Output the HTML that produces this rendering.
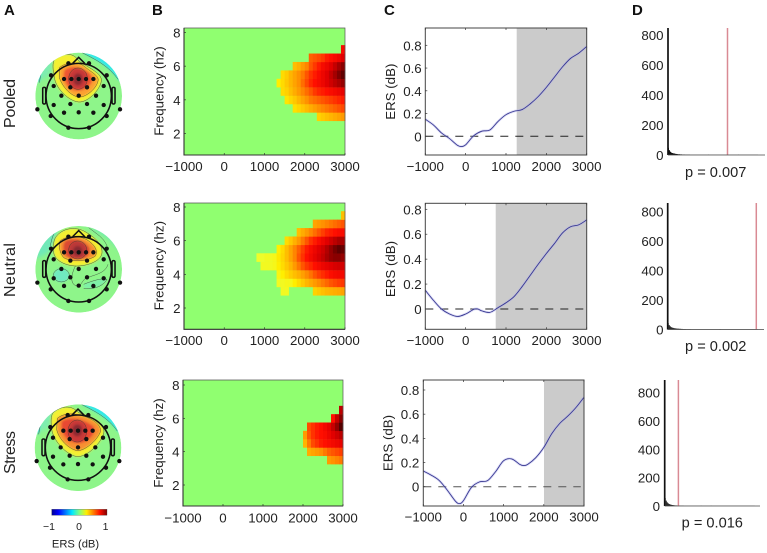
<!DOCTYPE html>
<html lang="en">
<head>
<meta charset="utf-8">
<title>ERS topography and time-frequency panels</title>
<style>
html,body{margin:0;padding:0;background:#fff;width:767px;height:553px;overflow:hidden}
svg{display:block}
text{font-family:"Liberation Sans",Arial,sans-serif;fill:#222}
</style>
</head>
<body>
<svg id="fig" xmlns="http://www.w3.org/2000/svg" width="767" height="553" viewBox="0 0 767 553">
<defs>
<filter id="soft" x="-20%" y="-20%" width="140%" height="140%"><feGaussianBlur stdDeviation="3"/></filter>
<filter id="softer" x="-30%" y="-30%" width="160%" height="160%"><feGaussianBlur stdDeviation="6"/></filter>
<linearGradient id="jet" x1="0" x2="1" y1="0" y2="0">
<stop offset="0" stop-color="#00008f"/><stop offset=".12" stop-color="#0000ff"/><stop offset=".37" stop-color="#00e8ff"/><stop offset=".5" stop-color="#80ff80"/><stop offset=".63" stop-color="#ffee00"/><stop offset=".87" stop-color="#ff1000"/><stop offset="1" stop-color="#800000"/>
</linearGradient>
<clipPath id="scalp-clip"><circle cx="0" cy="0" r="130"/></clipPath>
</defs>

<text x="4" y="15" font-size="15" font-weight="bold" style="fill:#111">A</text>
<text x="152" y="15" font-size="15" font-weight="bold" style="fill:#111">B</text>
<text x="384" y="15" font-size="15" font-weight="bold" style="fill:#111">C</text>
<text x="632" y="15" font-size="15" font-weight="bold" style="fill:#111">D</text>

<text transform="translate(15 103.5) rotate(-90)" text-anchor="middle" font-size="16" textLength="49">Pooled</text>
<text transform="translate(15 270) rotate(-90)" text-anchor="middle" font-size="16" textLength="54">Neutral</text>
<text transform="translate(15 452.5) rotate(-90)" text-anchor="middle" font-size="16" textLength="43">Stress</text>

<g transform="translate(78.7 96) scale(.3333)">
<g clip-path="url(#scalp-clip)">
<circle r="130" fill="#8ef58a"/>
<path d="M-130,-90 L-95,-130 L-60,-130 L-90,-60 L-130,-40Z" fill="#7eedb0" filter="url(#softer)"/>
<path d="M10,-130 L130,-130 L130,-40 L118,-50 C90,-90 50,-110 10,-130Z" fill="#30e8e8" filter="url(#soft)"/>
<path d="M-130,-60 L-112,-75 L-118,-40Z" fill="#40e0e0" filter="url(#soft)"/>
<g filter="url(#soft)">
<path d="M-71,-113 C-40,-130 -15,-130 0,-105 C30,-85 65,-70 68,-50 C70,-25 30,20 0,18 C-30,15 -65,-20 -72,-50 C-78,-80 -80,-100 -71,-113Z" fill="#f4f030"/>
<path d="M-58,-85 C-35,-105 5,-100 15,-90 C40,-70 62,-60 58,-45 C52,-20 20,5 0,3 C-25,0 -50,-30 -58,-55Z" fill="#fba030"/>
<path d="M-42,-78 C-20,-95 10,-85 30,-70 C45,-55 45,-40 25,-25 C5,-10 -20,-15 -32,-28 C-45,-45 -48,-65 -42,-78Z" fill="#ee5530"/>
<ellipse cx="-2" cy="-52" rx="28" ry="32" fill="#c83838"/>
<ellipse cx="-2" cy="-50" rx="14" ry="18" fill="#8c2a30"/>
</g>
<g fill="none" stroke="#333" stroke-width="1.2">
<path d="M-71,-113 C-40,-130 -15,-130 0,-105 C30,-85 65,-70 68,-50 C70,-25 30,20 0,18 C-30,15 -65,-20 -72,-50 C-78,-80 -80,-100 -71,-113Z"/>
<path d="M-58,-85 C-35,-105 5,-100 15,-90 C40,-70 62,-60 58,-45 C52,-20 20,5 0,3 C-25,0 -50,-30 -58,-55Z"/>
<ellipse cx="-2" cy="-52" rx="28" ry="32"/>
<path d="M10,-130 C50,-110 90,-90 118,-50"/>
<path d="M-130,-60 L-112,-75 L-118,-40"/>
</g>
</g>
<g class="head" fill="none" stroke="#111" stroke-width="4.6"><circle r="98" cx="0" cy="0"/><path d="M-18,-98 L0,-116 L18,-98"/><rect x="-108" y="-26" width="9" height="50" rx="4"/><rect x="100" y="-26" width="9" height="50" rx="4"/></g>
<g class="sites"></g>
</g>

<g transform="translate(78.7 269.3) scale(.3333)">
<g clip-path="url(#scalp-clip)">
<circle r="130" fill="#8ef58a"/>
<path d="M-130,-80 L-90,-130 L-60,-110 L-90,-50 L-130,-30Z" fill="#70e8b8" filter="url(#softer)"/>
<path d="M30,-130 L130,-130 L130,-50 L90,-90Z" fill="#70eab0" filter="url(#softer)"/>
<ellipse cx="-52" cy="18" rx="24" ry="20" fill="#70eac0" filter="url(#soft)"/>
<path d="M15,45 C40,35 70,25 85,30 C70,55 40,60 15,55Z" fill="#7ef0a8" filter="url(#soft)"/>
<g filter="url(#soft)">
<path d="M-70,-95 C-50,-125 -10,-128 15,-115 C45,-100 72,-75 70,-50 C68,-25 30,-12 0,-10 C-35,-8 -72,-25 -75,-50 C-78,-70 -75,-85 -70,-95Z" fill="#f4f030"/>
<path d="M-56,-85 C-30,-105 10,-100 30,-85 C50,-70 58,-55 50,-40 C30,-25 -20,-20 -45,-35 C-58,-50 -60,-70 -56,-85Z" fill="#f89030"/>
<path d="M-40,-85 C-20,-95 15,-90 32,-65 C38,-50 25,-32 0,-30 C-25,-28 -42,-40 -45,-55 C-48,-70 -45,-80 -40,-85Z" fill="#dc4830"/>
<ellipse cx="-3" cy="-58" rx="27" ry="27" fill="#bb3838"/>
<ellipse cx="-3" cy="-55" rx="14" ry="15" fill="#8a2a30"/>
</g>
<g fill="none" stroke="#333" stroke-width="1.2">
<path d="M-70,-95 C-50,-125 -10,-128 15,-115 C45,-100 72,-75 70,-50 C68,-25 30,-12 0,-10 C-35,-8 -72,-25 -75,-50 C-78,-70 -75,-85 -70,-95Z"/>
<path d="M-56,-85 C-30,-105 10,-100 30,-85 C50,-70 58,-55 50,-40 C30,-25 -20,-20 -45,-35 C-58,-50 -60,-70 -56,-85Z"/>
<ellipse cx="-3" cy="-58" rx="27" ry="27"/>
<ellipse cx="-52" cy="18" rx="24" ry="20"/>
<path d="M-10,-10 C-20,10 -30,45 -5,50 C10,50 10,30 25,25 C55,15 80,10 88,-15"/>
<path d="M15,58 C40,60 70,55 85,30 C70,25 40,35 15,45"/>
<path d="M-85,-70 C-82,-90 -75,-110 -62,-130"/>
<path d="M30,-125 C55,-105 75,-95 85,-70"/>
</g>
</g>
<g class="head" fill="none" stroke="#111" stroke-width="4.6"><circle r="98" cx="0" cy="0"/><path d="M-18,-98 L0,-116 L18,-98"/><rect x="-108" y="-26" width="9" height="50" rx="4"/><rect x="100" y="-26" width="9" height="50" rx="4"/></g>
<g class="sites"></g>
</g>

<g transform="translate(78 447.7) scale(.3333)">
<g clip-path="url(#scalp-clip)">
<circle r="130" fill="#8ef58a"/>
<path d="M-130,-90 L-95,-130 L-60,-130 L-90,-60 L-130,-40Z" fill="#7eedb0" filter="url(#softer)"/>
<path d="M10,-130 L130,-130 L130,-40 L118,-50 C90,-90 50,-110 10,-130Z" fill="#30e8e8" filter="url(#soft)"/>
<path d="M-130,-60 L-112,-75 L-118,-40Z" fill="#40e0e0" filter="url(#soft)"/>
<g filter="url(#soft)">
<path d="M-75,-105 C-45,-130 -15,-125 2,-105 C35,-95 75,-75 78,-50 C78,-25 35,25 0,27 C-30,25 -70,-15 -78,-50 C-82,-75 -82,-95 -75,-105Z" fill="#f4f030"/>
<path d="M-62,-88 C-35,-110 0,-100 25,-92 C55,-80 68,-65 68,-50 C60,-25 25,7 0,9 C-25,7 -58,-25 -64,-55Z" fill="#f89030"/>
<path d="M-48,-80 C-25,-95 20,-85 45,-65 C55,-52 45,-30 20,-18 C0,-8 -25,-15 -40,-35 C-50,-50 -52,-70 -48,-80Z" fill="#e84a30"/>
<ellipse cx="-2" cy="-50" rx="28" ry="33" fill="#c83838"/>
<ellipse cx="-2" cy="-52" rx="15" ry="18" fill="#8c2a30"/>
</g>
<g fill="none" stroke="#333" stroke-width="1.2">
<path d="M-75,-105 C-45,-130 -15,-125 2,-105 C35,-95 75,-75 78,-50 C78,-25 35,25 0,27 C-30,25 -70,-15 -78,-50 C-82,-75 -82,-95 -75,-105Z"/>
<path d="M-62,-88 C-35,-110 0,-100 25,-92 C55,-80 68,-65 68,-50 C60,-25 25,7 0,9 C-25,7 -58,-25 -64,-55Z"/>
<ellipse cx="-2" cy="-50" rx="28" ry="33"/>
<path d="M10,-130 C50,-110 90,-90 118,-50"/>
<path d="M-130,-60 L-112,-75 L-118,-40"/>
</g>
</g>
<g class="head" fill="none" stroke="#111" stroke-width="4.6"><circle r="98" cx="0" cy="0"/><path d="M-18,-98 L0,-116 L18,-98"/><rect x="-108" y="-26" width="9" height="50" rx="4"/><rect x="100" y="-26" width="9" height="50" rx="4"/></g>
<g class="sites"></g>
</g>

<g>
<rect x="51.7" y="509.3" width="55.3" height="6" fill="url(#jet)" stroke="#444" stroke-width=".3"/>
<text x="49" y="530" font-size="10.5" text-anchor="middle">−1</text>
<text x="79" y="530" font-size="10.5" text-anchor="middle">0</text>
<text x="105.5" y="530" font-size="10.5" text-anchor="middle">1</text>
<text x="75.5" y="547.5" font-size="11.2" text-anchor="middle">ERS (dB)</text>
</g>
</svg>

<script>
// ---------- Chart data ----------
var timeBins = [700,800,900,1000,1100,1200,1300,1400,1500,1600,1700,1800,1900,2000,2100,2200,2300,2400,2500,2600,2700,2800,2900];
var freqBins = [3,3.5,4,4.5,5,5.5,6,6.5,7,7.5];
var heatPooled = [
[0,0,0,0,0,0,0,0,0,0,0,0,0,0,0,0,26,28,30,32,34,36,38],
[0,0,0,0,0,0,0,0,0,0,23,25,28,31,34,37,40,42,44,46,48,50,52],
[0,0,0,0,0,0,0,0,22,25,28,32,36,40,44,46,48,50,52,54,56,58,60],
[0,0,0,0,0,0,0,24,26,30,34,38,42,46,50,55,58,60,62,64,66,68,70],
[0,0,0,0,0,0,20,24,28,32,36,40,46,52,58,62,65,68,72,76,80,84,88],
[0,0,0,0,0,0,0,24,27,32,36,40,44,50,56,60,64,68,72,78,85,92,98],
[0,0,0,0,0,0,0,0,0,0,30,33,38,42,50,55,60,65,68,72,78,85,90],
[0,0,0,0,0,0,0,0,0,0,0,0,0,0,48,50,52,55,60,62,65,68,72],
[0,0,0,0,0,0,0,0,0,0,0,0,0,0,0,0,0,0,0,0,0,0,65],
[0,0,0,0,0,0,0,0,0,0,0,0,0,0,0,0,0,0,0,0,0,0,0]
];
var heatNeutral = [
[0,0,0,0,0,0,0,16,16,0,0,0,0,0,0,26,28,30,32,33,34,35,36],
[0,0,0,0,0,0,16,16,17,17,20,24,28,32,35,38,41,44,47,50,52,54,55],
[0,0,0,0,0,0,18,20,24,27,30,33,37,41,45,50,54,57,60,63,65,66,66],
[0,0,16,16,16,17,20,24,28,32,38,44,50,55,58,62,65,68,70,72,74,75,75],
[0,15,15,16,16,17,21,25,30,36,42,50,56,62,66,70,74,78,84,88,90,90,88],
[0,0,0,0,0,0,20,24,30,36,42,48,54,60,64,68,72,76,82,88,94,98,96],
[0,0,0,0,0,0,0,0,24,28,33,38,44,50,56,60,64,68,72,76,80,84,84],
[0,0,0,0,0,0,0,0,0,0,0,30,34,38,42,46,50,54,58,60,62,64,64],
[0,0,0,0,0,0,0,0,0,0,0,0,0,0,0,36,38,40,42,44,46,48,50],
[0,0,0,0,0,0,0,0,0,0,0,0,0,0,0,0,0,0,0,0,0,0,30]
];
var heatStress = [
[0,0,0,0,0,0,0,0,0,0,0,0,0,0,0,0,0,0,0,0,0,0,0],
[0,0,0,0,0,0,0,0,0,0,0,0,0,0,0,0,0,0,0,38,40,42,44],
[0,0,0,0,0,0,0,0,0,0,0,0,0,0,34,36,38,40,44,48,50,52,54],
[0,0,0,0,0,0,0,0,0,0,0,0,0,32,44,52,56,60,62,64,66,68,70],
[0,0,0,0,0,0,0,0,0,0,0,0,0,38,50,56,60,62,64,68,72,76,80],
[0,0,0,0,0,0,0,0,0,0,0,0,0,0,52,56,60,62,66,70,78,88,100],
[0,0,0,0,0,0,0,0,0,0,0,0,0,0,0,0,0,0,0,0,62,78,90],
[0,0,0,0,0,0,0,0,0,0,0,0,0,0,0,0,0,0,0,0,0,0,80],
[0,0,0,0,0,0,0,0,0,0,0,0,0,0,0,0,0,0,0,0,0,0,0],
[0,0,0,0,0,0,0,0,0,0,0,0,0,0,0,0,0,0,0,0,0,0,0]
];
var timeTicks = [-1000,0,1000,2000,3000];
var freqTicks = [2,4,6,8];
var ersTicks = [0,0.2,0.4,0.6,0.8];
var countTicks = [0,200,400,600,800];

var ersPooledTimes = [-1000,-800,-600,-400,-200,-100,0,200,400,600,800,1000,1200,1400,1600,1800,2000,2200,2400,2600,2800,3000];
var ersPooled = [.15,.10,.03,-.02,-.08,-.09,-.075,.005,.045,.055,.13,.19,.22,.235,.285,.35,.43,.52,.61,.685,.73,.79];
var ersNeutralTimes = [-1000,-800,-600,-400,-200,0,200,300,400,600,800,1000,1200,1400,1600,1800,2000,2200,2400,2600,2800,3000];
var ersNeutral = [.15,.07,0,-.04,-.06,-.04,-.003,0,-.015,-.027,.01,.05,.10,.18,.27,.36,.445,.525,.61,.66,.675,.715];
var ersStressTimes = [-1000,-800,-600,-400,-200,-100,0,200,400,600,800,1000,1200,1400,1500,1600,1800,2000,2200,2400,2600,2800,3000];
var ersStress = [.13,.095,.05,-.03,-.12,-.14,-.115,-.005,.04,.05,.125,.215,.23,.185,.175,.185,.24,.325,.44,.525,.585,.655,.74];
var sigOnsetPooled = 1265;
var sigOnsetNeutral = 745;
var sigOnsetStress = 2004;

var histPooled = [48,32,22,16,13,11,10,8,7,6,5,5,4,4,3,3,3,2,2,2,2,2,1,1,1,1,1,1,1,1,1,1,1,1,1,1,1,1,1,1,2,1,1,1,1,1,1,1,1,1,1,1,1,1,1,1,1,1,1,1,1,1,1,1,1,1,1,1,1,1,2,1,1,1,1,1,1,1,1,1,1,1,1,1,1,1,1,1,1,1];
var histNeutral = [44,30,22,16,13,11,9,8,7,6,6,5,5,4,4,3,3,3,2,2,2,2,2,1,1,1,1,1,1,1,1,1,1,1,1,1,1,1,1,1,1,1,1,1,1,1,1,1,1,1,1,1,2,1,1,1,1,1,1,1,1,1,1,1,1,1,1,1,1,1,1,1,1,1,1,1,1,1,1,1,1,1,1,1,1,1,1,1,1,1];
var histStress = [56,38,26,19,14,11,9,7,6,5,4,4,3,3,3,2,2,2,2,1,1,1,1,1,1,1,1,1,1,1,1,1,1,1,1,1,2,1,1,1,1,1,1,1,1,1,2,1,1,1,1,1,1,1,1,1,1,1,1,1,1,1,1,1,1,1,1,1,1,1,1,1,1,1,1,1,1,1,1,1,1,1,1,1,1,1,1,1,1,1];
var observedPooled = 59.5;
var observedNeutral = 88.6;
var observedStress = 13.7;
var pLabels = ["p = 0.007","p = 0.002","p = 0.016"];

var electrodeSites = [[-31,-98],[31,-98],[-83,-62],[84,-62],[-44,-51],[-22,-51],[0,-51],[22,-51],[44,-51],[-25,-26],[25,-26],[-75,-30],[75,-30],[-52,-1],[0,-1],[52,-1],[-75,27],[-25,24],[25,24],[75,27],[-124,40],[124,40],[-44,50],[0,49],[44,50],[-84,60],[84,60],[-31,95],[31,95]];

// ---------- Helpers ----------
var NS = 'http://www.w3.org/2000/svg';
var fig = document.getElementById('fig');
function make(tag, attrs, parent, txt){
  var el = document.createElementNS(NS, tag);
  for (var k in attrs) el.setAttribute(k, attrs[k]);
  if (txt !== undefined) el.textContent = txt;
  (parent || fig).appendChild(el);
  return el;
}
function scale(d0, d1, r0, r1){ return function(v){ return r0 + (v - d0) * (r1 - r0) / (d1 - d0); }; }
var heatStops = [[0,[144,255,112]],[14,[236,255,50]],[20,[255,238,0]],[30,[255,190,0]],[40,[255,145,0]],[50,[255,85,0]],[62,[255,15,0]],[72,[225,0,0]],[85,[165,0,0]],[100,[85,0,0]]];
function heatColor(v){
  for (var i = 1; i < heatStops.length; i++){
    if (v <= heatStops[i][0]){
      var a = heatStops[i-1], b = heatStops[i], t = (v - a[0]) / (b[0] - a[0]);
      return 'rgb(' + [0,1,2].map(function(c){ return Math.round(a[1][c] + (b[1][c] - a[1][c]) * t); }).join(',') + ')';
    }
  }
  return 'rgb(85,0,0)';
}
function label(parent, x, y, s, anchor){
  return make('text', {x:x, y:y, 'font-size':13.3, 'text-anchor':anchor}, parent, s);
}
function smoothPath(xs, ys){
  var d = 'M' + xs[0].toFixed(2) + ',' + ys[0].toFixed(2);
  for (var i = 0; i < xs.length - 1; i++){
    var p = Math.max(i-1,0), n = Math.min(i+2,xs.length-1);
    d += 'C' + (xs[i]+(xs[i+1]-xs[p])/6).toFixed(2) + ',' + (ys[i]+(ys[i+1]-ys[p])/6).toFixed(2) + ' ' +
         (xs[i+1]-(xs[n]-xs[i])/6).toFixed(2) + ',' + (ys[i+1]-(ys[n]-ys[i])/6).toFixed(2) + ' ' +
         xs[i+1].toFixed(2) + ',' + ys[i+1].toFixed(2);
  }
  return d;
}

// ---------- Electrodes ----------
var siteGroups = document.querySelectorAll('.sites');
siteGroups.forEach(function(g){
  
  electrodeSites.forEach(function(s){
    var dot = make('circle', {cx:s[0], cy:s[1], r:6.5, fill:'#111'}, g);
    
    
  });
});
document.querySelectorAll('.head').forEach(function(h){
  
  
});

// ---------- Panel B ----------
function heatPanel(name, grid, L, R, T, B, y8, y2, tickBase, labelX, labelY){
  var g = make('g', {}, fig);
  
  
  var x = scale(-1000, 3000, L, R), y = scale(2, 8, y2, y8);
  var bg = make('rect', {x:L, y:T, width:R-L, height:B-T, fill:'#90ff70'}, g);
  
  
  grid.forEach(function(row, r){
    row.forEach(function(v, c){
      if (!v) return;
      var x0 = x(timeBins[c]), x1 = x(timeBins[c] + 100);
      var y0 = y(freqBins[r] + .25), y1 = y(freqBins[r] - .25);
      var cell = make('rect', {x:x0, y:y0, width:x1-x0+.3, height:y1-y0+.2, fill:heatColor(v)}, g);
      
      
    });
  });
  var frame = make('path', {d:'M'+L+','+T+'H'+R+'V'+B+'H'+L+'Z', fill:'none', stroke:'#555', 'stroke-width':.7}, g);
  
  
  var axisLine = make('path', {d:'M'+L+','+T+'V'+B+'H'+R, fill:'none', stroke:'#333', 'stroke-width':1.1}, g);
  
  
  timeTicks.forEach(function(t){
    make('line', {x1:x(t), x2:x(t), y1:B, y2:B-2, stroke:'#333', 'stroke-width':.7}, g);
    var tl = label(g, x(t), tickBase, String(t).replace('-', '−'), 'middle');
    
    
  });
  freqTicks.forEach(function(f){
    make('line', {x1:L, x2:L+2, y1:y(f), y2:y(f), stroke:'#333', 'stroke-width':.7}, g);
    var tl = label(g, L-3.5, y(f)+5, String(f), 'end');
    
    
  });
  var yt = make('text', {transform:'translate('+labelX+' '+labelY+') rotate(-90)', 'font-size':13.3, 'text-anchor':'middle'}, g, 'Frequency (hz)');
  
  
}
heatPanel('pooled', heatPooled, 184, 345, 28, 155, 32.5, 133.5, 171, 163.5, 91);
heatPanel('neutral', heatNeutral, 184, 345, 203, 329.3, 207, 308, 345, 163.5, 265.7);
heatPanel('stress', heatStress, 183, 343, 380, 506, 385, 485, 522.5, 163, 443);

// ---------- Panel C ----------
function ersPanel(name, times, values, onset, L, R, T, B, y08, y0, tickBase, labelX, labelY, labelRight, dashColor){
  var g = make('g', {}, fig);
  
  
  var x = scale(-1000, 3000, L, R), y = scale(0, .8, y0, y08);
  var shade = make('rect', {x:x(onset), y:T, width:R-x(onset), height:B-T, fill:'#cbcbcb'}, g);
  
  
  var dash = make('line', {x1:L, x2:x(2920), y1:y(0), y2:y(0), stroke:dashColor, 'stroke-width':1, 'stroke-dasharray':'8 7'}, g);
  
  
  var d = smoothPath(times.map(x), values.map(y));
  var band = make('path', {d:d, fill:'none', stroke:'#a8a8e8', 'stroke-opacity':.4, 'stroke-width':2.6}, g);
  
  
  var line = make('path', {d:d, fill:'none', stroke:'#35358f', 'stroke-width':.85}, g);
  
  
  var frame = make('rect', {x:L, y:T, width:R-L, height:B-T, fill:'none', stroke:'#444', 'stroke-width':1}, g);
  
  
  timeTicks.forEach(function(t){
    make('line', {x1:x(t), x2:x(t), y1:B, y2:B-2, stroke:'#333', 'stroke-width':.7}, g);
    make('line', {x1:x(t), x2:x(t), y1:T, y2:T+2, stroke:'#333', 'stroke-width':.7}, g);
    var tl = label(g, x(t), tickBase, String(t).replace('-', '−'), 'middle');
    
    
  });
  ersTicks.forEach(function(v){
    make('line', {x1:L, x2:L+2, y1:y(v), y2:y(v), stroke:'#333', 'stroke-width':.7}, g);
    var tl = label(g, labelRight, y(v)+5, v === 0 ? '0' : v.toFixed(1), 'end');
    
    
  });
  var yt = make('text', {transform:'translate('+labelX+' '+labelY+') rotate(-90)', 'font-size':13.3, 'text-anchor':'middle'}, g, 'ERS (dB)');
  
  
}
ersPanel('pooled', ersPooledTimes, ersPooled, sigOnsetPooled, 425.3, 586.7, 28, 155, 45.3, 136.3, 171, 395, 91.7, 421.7, '#222');
ersPanel('neutral', ersNeutralTimes, ersNeutral, sigOnsetNeutral, 425.3, 586.7, 203.3, 329.3, 209.3, 309, 345, 395, 269, 421.7, '#222');
ersPanel('stress', ersStressTimes, ersStress, sigOnsetStress, 423.3, 584, 380, 506, 390, 486.7, 521.7, 392.7, 443, 419.3, '#555');

// ---------- Panel D ----------
function histPanel(name, counts, observed, pText, L, R, T, B, y800, tickRight, pX, pY){
  var g = make('g', {}, fig);
  
  
  var x = scale(0, R-L, L, R), y = scale(0, 800, B, y800);
  counts.forEach(function(c, i){
    var bar = make('rect', {x:x(i), y:y(c), width:1, height:B-y(c), fill:'#111'}, g);
    
    
  });
  var red = make('line', {x1:x(observed), x2:x(observed), y1:T, y2:B, stroke:'#d98a94', 'stroke-width':1.5}, g);
  
  
  var axes = make('path', {d:'M'+L+','+T+'V'+B, fill:'none', stroke:'#111', 'stroke-width':1.7}, g);
  
  
  var base = make('line', {x1:L, x2:R, y1:B, y2:B, stroke:'#444', 'stroke-width':.7}, g);
  
  
  countTicks.forEach(function(v){
    var tl = label(g, tickRight, y(v)+5, String(v), 'end');
    
    
  });
  var p = make('text', {x:pX, y:pY, 'font-size':14.6, 'text-anchor':'middle'}, g, pText);
  
  
}
histPanel('pooled', histPooled, observedPooled, pLabels[0], 668, 765, 28, 155, 35, 663.5, 715.7, 177);
histPanel('neutral', histNeutral, observedNeutral, pLabels[1], 667.7, 764, 203, 329.5, 211.7, 663.5, 715.7, 351);
histPanel('stress', histStress, observedStress, pLabels[2], 664.7, 760, 380, 506, 392.7, 660, 712.3, 527.7);
</script>
</body>
</html>
